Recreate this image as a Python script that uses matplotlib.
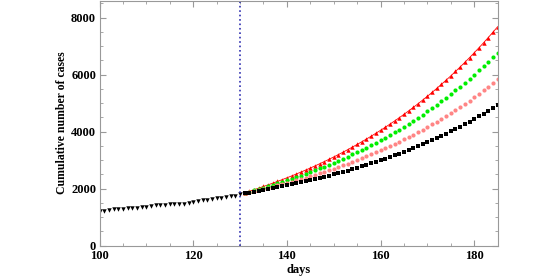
import numpy as np
import matplotlib.pyplot as plt
from matplotlib.ticker import MultipleLocator

# -----------------
# DATA
# -----------------
days_obs = np.arange(100, 131)
cases_obs = [1230, 1235, 1245, 1290, 1295, 1300, 1310, 1320, 1330, 1360,
             1375, 1390, 1420, 1430, 1440, 1450, 1460, 1470, 1480, 1500,
             1550, 1580, 1600, 1620, 1640, 1660, 1690, 1710, 1740, 1760, 1800]

days_proj = np.arange(131, 186)
proj_red = [1861, 1914, 1967, 2022, 2079, 2137, 2196, 2257, 2319, 2383,
            2448, 2515, 2584, 2654, 2726, 2800, 2876, 2953, 3033, 3114,
            3198, 3283, 3371, 3461, 3553, 3647, 3744, 3843, 3945, 4049,
            4155, 4265, 4377, 4491, 4609, 4730, 4853, 4980, 5110, 5242,
            5379, 5518, 5662, 5808, 5958, 6113, 6270, 6432, 6598, 6768,
            6942, 7120, 7303, 7490, 7682]
proj_green = [1853, 1898, 1943, 1990, 2037, 2086, 2136, 2188, 2240, 2294,
              2349, 2406, 2464, 2524, 2584, 2647, 2711, 2776, 2844, 2912,
              2983, 3055, 3130, 3205, 3283, 3363, 3445, 3529, 3615, 3702,
              3793, 3885, 3980, 4077, 4176, 4278, 4383, 4490, 4599, 4712,
              4827, 4945, 5066, 5190, 5317, 5447, 5581, 5717, 5857, 6001,
              6148, 6299, 6454, 6612, 6774]
proj_pink = [1845, 1881, 1918, 1956, 1994, 2034, 2075, 2116, 2159, 2203,
             2248, 2293, 2341, 2389, 2438, 2489, 2541, 2594, 2649, 2704,
             2762, 2820, 2881, 2942, 3005, 3070, 3136, 3204, 3274, 3345,
             3419, 3494, 3570, 3649, 3730, 3812, 3897, 3984, 4073, 4164,
             4258, 4354, 4452, 4552, 4655, 4761, 4869, 4980, 5094, 5210,
             5330, 5452, 5578, 5706, 5838]
proj_black = [1837, 1865, 1893, 1923, 1953, 1983, 2015, 2047, 2080, 2114,
              2149, 2184, 2221, 2258, 2296, 2335, 2376, 2417, 2459, 2502,
              2546, 2592, 2638, 2686, 2735, 2785, 2836, 2889, 2943, 2998,
              3055, 3113, 3172, 3233, 3296, 3360, 3425, 3492, 3561, 3632,
              3704, 3778, 3854, 3932, 4012, 4094, 4177, 4263, 4351, 4441,
              4534, 4629, 4726, 4825, 4927]

cutoff_day = 130

# ----------------
# PLOTTING SECTION
# ----------------
plt.rcParams['font.family'] = ['Liberation Serif', 'DejaVu Serif']
plt.rcParams['font.weight'] = 'bold'

fig = plt.figure(figsize=(5.56, 2.78), dpi=100)
ax = fig.add_axes([0.179, 0.116, 0.716, 0.882])

ax.plot(days_proj, proj_red, color='red', lw=0.6, marker='^', ms=3.2, mew=0)
ax.plot(days_proj, proj_green, ls='none', marker='o', ms=3.0, mew=0, color='#00ee00')
ax.plot(days_proj, proj_pink, ls='none', marker='o', ms=3.0, mew=0, color='#ff8585')
ax.plot(days_proj, proj_black, ls='none', marker='s', ms=2.5, mew=0, color='black')
ax.plot(days_obs, cases_obs, ls='none', marker='v', ms=3.2, mew=0, color='black')

ax.axvline(cutoff_day, color='#3030b0', ls=':', lw=1.2)

ax.set_xlim(100, 185)
ax.set_ylim(0, 8600)
ax.xaxis.set_major_locator(MultipleLocator(20))
ax.xaxis.set_minor_locator(MultipleLocator(5))
ax.yaxis.set_major_locator(MultipleLocator(2000))
ax.yaxis.set_minor_locator(MultipleLocator(500))
ax.tick_params(which='both', direction='in', top=True, right=True,
               color='#999999', labelsize=9)
ax.tick_params(axis='x', pad=3)
ax.tick_params(axis='y', pad=2.5)
ax.tick_params(which='major', length=4)
ax.tick_params(which='minor', length=2)
for sp in ax.spines.values():
    sp.set_color('#999999')

ax.set_xlabel('days', fontsize=9, fontweight='bold', labelpad=1.5)
ax.set_ylabel('Cumulative number of cases', fontsize=8.5, fontweight='bold', labelpad=2)

fig.savefig('out.png', dpi=100)
